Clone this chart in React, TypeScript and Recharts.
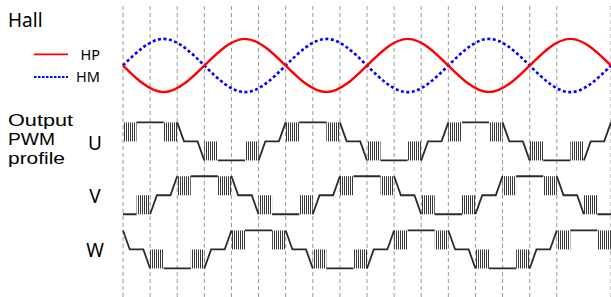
import React from 'react';
import { LineChart, Line, XAxis, YAxis, CartesianGrid, ReferenceArea } from 'recharts';

// electrical angle in 60° steps (one dashed line per step)
const gridTicks = [0, 1, 2, 3, 4, 5, 6, 7, 8, 9, 10, 11, 12, 13, 14, 15, 16, 17, 18];

// Hall sensor signals, sampled every 90°
const hallX = [0, 1.5, 3, 4.5, 6, 7.5, 9, 10.5, 12, 13.5, 15, 16.5, 18];
const hpValues = [0, -1, 0, 1, 0, -1, 0, 1, 0, -1, 0, 1, 0];
const hmValues = [0, 1, 0, -1, 0, 1, 0, -1, 0, 1, 0, -1, 0];

// phase outputs: [angle, level] (0 = low, 1 = mid, 2 = high, null = PWM gap)
type Pt = [number, number | null];

const uLine: Pt[] = [
  [0.5, 2], [1.5, 2], [1.75, null],
  [2, 2], [2.25, 1], [2.75, 1], [3, 0], [3.25, null],
  [3.5, 0], [4.5, 0], [4.75, null],
  [5, 0], [5.25, 1], [5.75, 1], [6, 2], [6.25, null],
  [6.5, 2], [7.5, 2], [7.75, null],
  [8, 2], [8.25, 1], [8.75, 1], [9, 0], [9.25, null],
  [9.5, 0], [10.5, 0], [10.75, null],
  [11, 0], [11.25, 1], [11.75, 1], [12, 2], [12.25, null],
  [12.5, 2], [13.5, 2], [13.75, null],
  [14, 2], [14.25, 1], [14.75, 1], [15, 0], [15.25, null],
  [15.5, 0], [16.5, 0], [16.75, null],
  [17, 0], [17.25, 1], [17.75, 1], [18, 2],
];

const vLine: Pt[] = [
  [0, 0], [0.5, 0], [0.75, null],
  [1, 0], [1.25, 1], [1.75, 1], [2, 2], [2.25, null],
  [2.5, 2], [3.5, 2], [3.75, null],
  [4, 2], [4.25, 1], [4.75, 1], [5, 0], [5.25, null],
  [5.5, 0], [6.5, 0], [6.75, null],
  [7, 0], [7.25, 1], [7.75, 1], [8, 2], [8.25, null],
  [8.5, 2], [9.5, 2], [9.75, null],
  [10, 2], [10.25, 1], [10.75, 1], [11, 0], [11.25, null],
  [11.5, 0], [12.5, 0], [12.75, null],
  [13, 0], [13.25, 1], [13.75, 1], [14, 2], [14.25, null],
  [14.5, 2], [15.5, 2], [15.75, null],
  [16, 2], [16.25, 1], [16.75, 1], [17, 0], [17.25, null],
  [17.5, 0], [18, 0],
];

const wLine: Pt[] = [
  [0, 2], [0.25, 1], [0.75, 1], [1, 0], [1.25, null],
  [1.5, 0], [2.5, 0], [2.75, null],
  [3, 0], [3.25, 1], [3.75, 1], [4, 2], [4.25, null],
  [4.5, 2], [5.5, 2], [5.75, null],
  [6, 2], [6.25, 1], [6.75, 1], [7, 0], [7.25, null],
  [7.5, 0], [8.5, 0], [8.75, null],
  [9, 0], [9.25, 1], [9.75, 1], [10, 2], [10.25, null],
  [10.5, 2], [11.5, 2], [11.75, null],
  [12, 2], [12.25, 1], [12.75, 1], [13, 0], [13.25, null],
  [13.5, 0], [14.5, 0], [14.75, null],
  [15, 0], [15.25, 1], [15.75, 1], [16, 2], [16.25, null],
  [16.5, 2], [17.5, 2],
];

// PWM switching windows: [from, to, band] (band 1 = mid..high, 0 = low..mid)
type Win = [number, number, number];
const uPwm: Win[] = [[0, 0.5, 1], [1.5, 2, 1], [3, 3.5, 0], [4.5, 5, 0], [6, 6.5, 1], [7.5, 8, 1], [9, 9.5, 0], [10.5, 11, 0], [12, 12.5, 1], [13.5, 14, 1], [15, 15.5, 0], [16.5, 17, 0]];
const vPwm: Win[] = [[0.5, 1, 0], [2, 2.5, 1], [3.5, 4, 1], [5, 5.5, 0], [6.5, 7, 0], [8, 8.5, 1], [9.5, 10, 1], [11, 11.5, 0], [12.5, 13, 0], [14, 14.5, 1], [15.5, 16, 1], [17, 17.5, 0]];
const wPwm: Win[] = [[1, 1.5, 0], [2.5, 3, 0], [4, 4.5, 1], [5.5, 6, 1], [7, 7.5, 0], [8.5, 9, 0], [10, 10.5, 1], [11.5, 12, 1], [13, 13.5, 0], [14.5, 15, 0], [16, 16.5, 1], [17.5, 18, 1]];

// vertical placement of each trace on the shared y axis
const HALL_CENTER = 12.17;
const HALL_AMP = 1.4;
const U_BASE = 7.18;
const V_BASE = 4.35;
const W_BASE = 1.5;

const hpData = hallX.map((x, i) => ({ x, y: HALL_CENTER + HALL_AMP * hpValues[i] }));
const hmData = hallX.map((x, i) => ({ x, y: HALL_CENTER + HALL_AMP * hmValues[i] }));
const toSeries = (pts: Pt[], base: number) =>
  pts.map(([x, lv]) => ({ x, y: lv === null ? null : base + lv }));

const phases = [
  { key: 'U', line: toSeries(uLine, U_BASE), pwm: uPwm, base: U_BASE },
  { key: 'V', line: toSeries(vLine, V_BASE), pwm: vPwm, base: V_BASE },
  { key: 'W', line: toSeries(wLine, W_BASE), pwm: wPwm, base: W_BASE },
];

const font = '"Noto Sans", sans-serif';
// tighter font for the stacked three-line label (lines are only 19px apart)
const stackFont = '"Liberation Sans", Arial, sans-serif';

export default function App() {
  return (
    <div style={{ position: 'fixed', left: 0, top: 0, width: 611, height: 297, background: '#fff' }}>
      <LineChart width={611} height={297} margin={{ top: 6, right: 0, bottom: 0, left: 123 }}>
        <defs>
          <pattern id="pwmHatch" width="2" height="4" patternUnits="userSpaceOnUse">
            <rect x="0" y="0" width="1" height="4" fill="#3a3a3a" />
          </pattern>
        </defs>
        <CartesianGrid horizontal={false} stroke="#9a9a9a" strokeDasharray="4 3" />
        <XAxis type="number" dataKey="x" domain={[0, 18]} ticks={gridTicks} hide />
        <YAxis type="number" domain={[0, 15.3]} hide />
        {phases.map((p) =>
          p.pwm.map(([a, b, band], i) => (
            <ReferenceArea
              key={p.key + i}
              x1={a}
              x2={b}
              y1={p.base + band}
              y2={p.base + band + 1}
              fill="url(#pwmHatch)"
              fillOpacity={1}
              stroke="none"
            />
          ))
        )}
        {phases.map((p) => (
          <Line
            key={p.key}
            data={p.line}
            dataKey="y"
            type="linear"
            stroke="#2a2a2a"
            strokeWidth={1.8}
            dot={false}
            activeDot={false}
            isAnimationActive={false}
          />
        ))}
        <Line data={hmData} dataKey="y" type="natural" stroke="#0000ff" strokeWidth={2.6} strokeDasharray="3 2.5" dot={false} activeDot={false} isAnimationActive={false} />
        <Line data={hpData} dataKey="y" type="natural" stroke="#ff0000" strokeWidth={2.4} dot={false} activeDot={false} isAnimationActive={false} />
      </LineChart>

      <svg width={611} height={297} style={{ position: 'absolute', left: 0, top: 0, pointerEvents: 'none' }}>
        <g fontFamily={font} fill="#000">
          <text x={8} y={26.5} fontSize={19}>Hall</text>
          <line x1={34} x2={68} y1={54.3} y2={54.3} stroke="#ff0000" strokeWidth={1.8} />
          <text x={100} y={60} fontSize={14.5} textAnchor="end">HP</text>
          <line x1={34} x2={68} y1={77} y2={77} stroke="#0000ff" strokeWidth={2.2} strokeDasharray="2.5 1.5" />
          <text x={100} y={82} fontSize={14.5} textAnchor="end">HM</text>
          <text x={8} y={126} fontSize={17} fontFamily={stackFont} textLength={65} lengthAdjust="spacingAndGlyphs">Output</text>
          <text x={8} y={145} fontSize={17} fontFamily={stackFont} textLength={47} lengthAdjust="spacingAndGlyphs">PWM</text>
          <text x={8} y={164} fontSize={17} fontFamily={stackFont} textLength={57} lengthAdjust="spacingAndGlyphs">profile</text>
          <text x={95} y={149.5} fontSize={19} textAnchor="middle">U</text>
          <text x={95} y={202.7} fontSize={19} textAnchor="middle">V</text>
          <text x={95} y={256.7} fontSize={19} textAnchor="middle">W</text>
        </g>
      </svg>
    </div>
  );
}
